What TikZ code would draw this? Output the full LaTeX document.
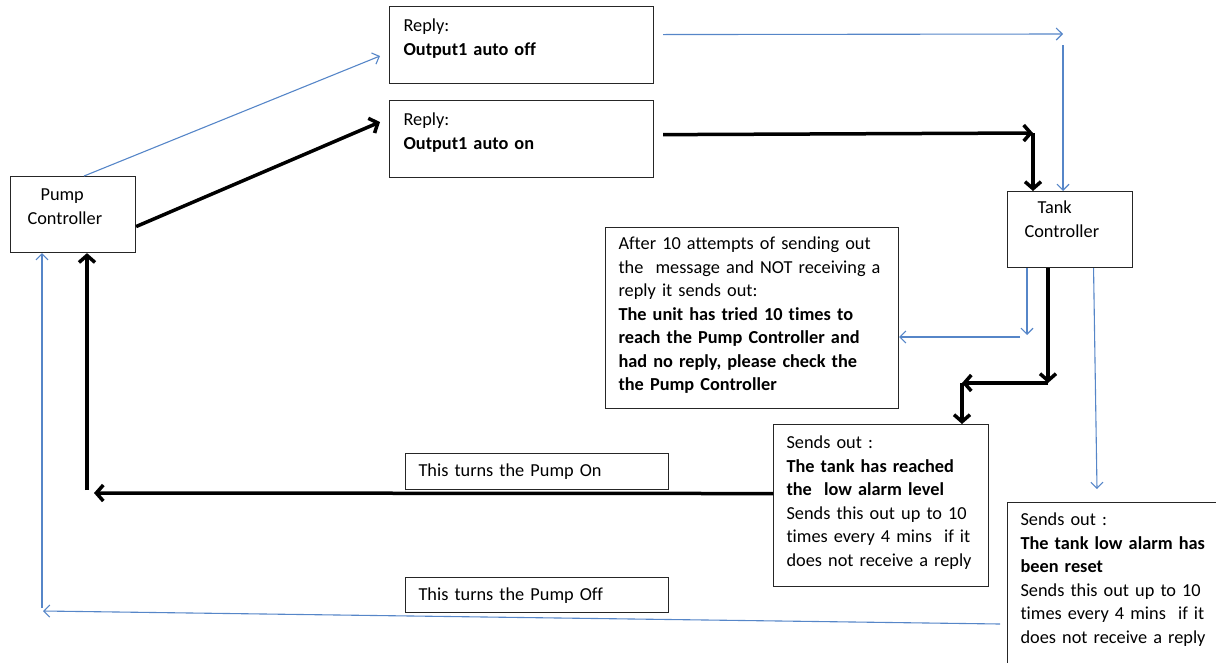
\documentclass[tikz,border=0pt]{standalone}
\usepackage{fontspec}
\setmainfont{Carlito}[Ligatures=NoCommon]
\usetikzlibrary{arrows.meta}
\usetikzlibrary{positioning}
\definecolor{linkblue}{RGB}{86,134,200}
\hyphenpenalty=10000
\tikzstyle{box} = [rectangle, draw=black!85, line width=1.1pt, anchor=north west, inner ysep=0pt, inner xsep=13pt, align=left, font=\fontsize{18.3}{23.5}\selectfont]
\tikzstyle{bluearr} = [draw=linkblue, line width=1.1pt, -{Straight Barb[length=6pt,width=12pt]}]
\tikzstyle{blackarr} = [draw=black, line width=3.5pt, -{Straight Barb[length=7pt,width=16pt]}]

\begin{document}
\begin{tikzpicture}[x=1pt, y=-1pt]
\useasboundingbox (0,0) rectangle (1216,662);
\clip (0,0) rectangle (1216,662);

% Define nodes
\node[box, text width=91pt, inner xsep=17pt, text height=24pt, text depth=52pt]     (pump)  at (10,176)   {\hspace*{13pt}Pump\\Controller};
\node[box, text width=91pt, inner xsep=17pt, text height=22pt, text depth=54pt]     (tank)  at (1007,191) {\hspace*{13pt}Tank\\Controller};

\node[box, text width=236pt, inner xsep=14pt, text height=25pt, text depth=52pt]    (off)   at (389,6)    {Reply:\\\textbf{Output1 auto off}};
\node[box, text width=236pt, inner xsep=14pt, text height=25pt, text depth=52pt,
      below=16pt of off]                                                            (on)              {Reply:\\\textbf{Output1 auto on}};

\node[box, text width=267pt, text height=22pt, text depth=159pt]                   (fail)  at (605,227)  {After 10 attempts of sending out\\the~ message and NOT receiving a\\reply it sends out:\\\textbf{The unit has tried 10 times to}\\\textbf{reach the Pump Controller and}\\\textbf{had no reply, please check the}\\\textbf{the Pump Controller}};
\node[box, text width=189pt, text height=24pt, text depth=138pt]                   (low)   at (773,424)  {Sends out :\\\textbf{The tank has reached}\\\textbf{the~ low alarm level}\\Sends this out up to 10\\times every 4 mins~ if it\\does not receive a reply};
\node[box, text width=204pt, text height=23pt, text depth=170pt]                   (reset) at (1007,502) {Sends out :\\\textbf{The tank low alarm has}\\\textbf{been reset}\\Sends this out up to 10\\times every 4 mins~ if it\\does not receive a reply};

\node[box, text width=237pt, text height=23pt, text depth=13pt]                    (pon)   at (405,453)  {This turns the Pump On};
\node[box, text width=237pt, text height=23pt, text depth=12pt,
      below=87pt of pon]                                                            (poff)            {This turns the Pump Off};

% Free ends
\coordinate (offin)  at (380,56);
\coordinate (onin)   at (380,122);
\coordinate (tnkin)  at (1063,34);
\coordinate (tnkon)  at (1033,133);
\coordinate (failc)  at (1027,335);
\coordinate (faila)  at (1020,337);
\coordinate (lowc)   at (1048,383);
\coordinate (lowd)   at (962,383);
\coordinate (resetc) at (1097,489);
\coordinate (pumpon) at (94,493);
\coordinate (pumpup) at (87,490);
\coordinate (offl)   at (1000,624);
\coordinate (offr)   at (43,611);
\coordinate (offup)  at (42,608);

% Edges
\draw[bluearr]  ([xshift=11pt]pump.north) -- (offin);
\draw[blackarr] ([yshift=-12pt]pump.east) -- (onin);

\draw[bluearr]  ([xshift=9pt,yshift=10.5pt]off.east) -- (tnkin);
\draw[bluearr]  ([yshift=-11pt]tnkin) -- (tank.north -| tnkin);
\draw[blackarr] ([xshift=9pt,yshift=4.5pt]on.east) -- (tnkon);
\draw[blackarr] (tnkon) -- (tank.north -| tnkon);

\draw[bluearr]  (tank.south -| failc) -- (failc);
\draw[bluearr]  (faila) -- (faila -| fail.east);
\draw[blackarr] (tank.south -| lowc) -- (lowc);
\draw[blackarr] (lowc) -- (lowd);
\draw[blackarr] (lowd) -- (lowd |- low.north);
\draw[bluearr]  ([xshift=23.5pt]tank.south) -- (resetc);

\draw[blackarr] ([yshift=12pt]low.west) -- (pumpon);
\draw[blackarr] (pumpup) -- (pumpup |- pump.south);
\draw[bluearr]  (offl) -- (offr);
\draw[bluearr]  (offup) -- (offup |- pump.south);
\end{tikzpicture}
\end{document}
